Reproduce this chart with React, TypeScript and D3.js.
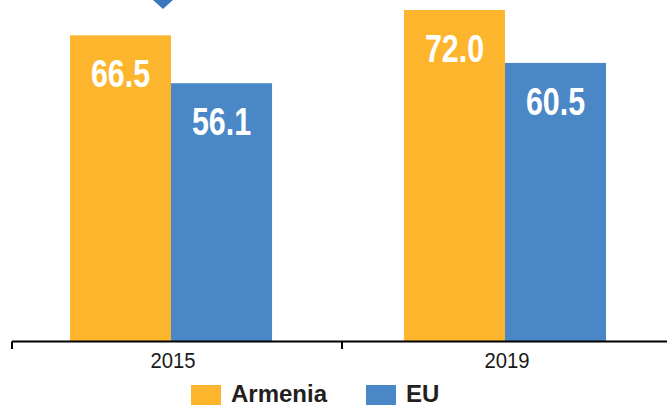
import React from "react";
import * as d3 from "d3";

const years = ["2015", "2019"];
const seriesNames = ["Armenia", "EU"];
const armenia = [66.5, 72.0];
const eu = [56.1, 60.5];
const colors = ["#FDB52D", "#4A87C6"];

const W = 667;
const H = 407;

export default function App() {
  const baseY = 341.5;
  const y = d3.scaleLinear().domain([0, 72]).range([baseY, 10]);
  const x0 = d3
    .scaleBand<string>()
    .domain(years)
    .range([4, 672])
    .paddingInner(0.395)
    .paddingOuter(0.1976);
  const x1 = d3
    .scaleBand<string>()
    .domain(seriesNames)
    .range([0, x0.bandwidth()]);
  const xAxisBand = d3.scaleBand<string>().domain(years).range([12, 672]);
  const values = [armenia, eu];
  const tickXs = years.map((d) => xAxisBand(d) as number);

  const reg = "'Liberation Sans', Arial, sans-serif";

  return (
    <svg
      width={W}
      height={H}
      style={{ position: "absolute", left: 0, top: 0 }}
      xmlns="http://www.w3.org/2000/svg"
    >
      <rect width={W} height={H} fill="#ffffff" />
      {/* marker triangle */}
      <polygon
        points={`${(x0("2015") as number) + 83},0 ${(x0("2015") as number) + 103},0 ${(x0("2015") as number) + 93},9`}
        fill="#3A76BE"
      />
      {years.map((yr, i) => (
        <g key={yr} transform={`translate(${x0(yr)},0)`}>
          {seriesNames.map((s, j) => {
            const v = values[j][i];
            const bx = x1(s) as number;
            const bw = x1.bandwidth();
            const cx = bx + bw / 2;
            return (
              <g key={s}>
                <rect
                  x={bx}
                  y={y(v)}
                  width={bw}
                  height={baseY - y(v)}
                  fill={colors[j]}
                />
                <text
                  transform={`translate(${cx},${y(v) + 52}) scale(0.8,1)`}
                  textAnchor="middle"
                  fill="#ffffff"
                  fontFamily={reg}
                  fontWeight="bold"
                  fontSize={38}
                >
                  {v.toFixed(1)}
                </text>
              </g>
            );
          })}
          <text
            transform={`translate(${x0.bandwidth() / 2 + 2},368) scale(0.9,1)`}
            textAnchor="middle"
            fill="#1a1a1a"
            fontFamily={reg}
            fontSize={22.5}
          >
            {yr}
          </text>
        </g>
      ))}
      {/* axis */}
      <line x1={tickXs[0]} x2={W} y1={baseY} y2={baseY} stroke="#000" strokeWidth={2} />
      {tickXs.map((tx, i) => (
        <line key={i} x1={tx} x2={tx} y1={baseY} y2={349} stroke="#000" strokeWidth={2} />
      ))}
      {/* legend */}
      <g>
        <rect x={191} y={385} width={30} height={20} fill={colors[0]} />
        <text x={231} y={401.5} fontFamily={reg} fontWeight="bold" fontSize={24} fill="#231F20">
          {seriesNames[0]}
        </text>
        <rect x={366} y={385} width={30} height={20} fill={colors[1]} />
        <text x={406} y={401.5} fontFamily={reg} fontWeight="bold" fontSize={24} fill="#231F20">
          {seriesNames[1]}
        </text>
      </g>
    </svg>
  );
}
